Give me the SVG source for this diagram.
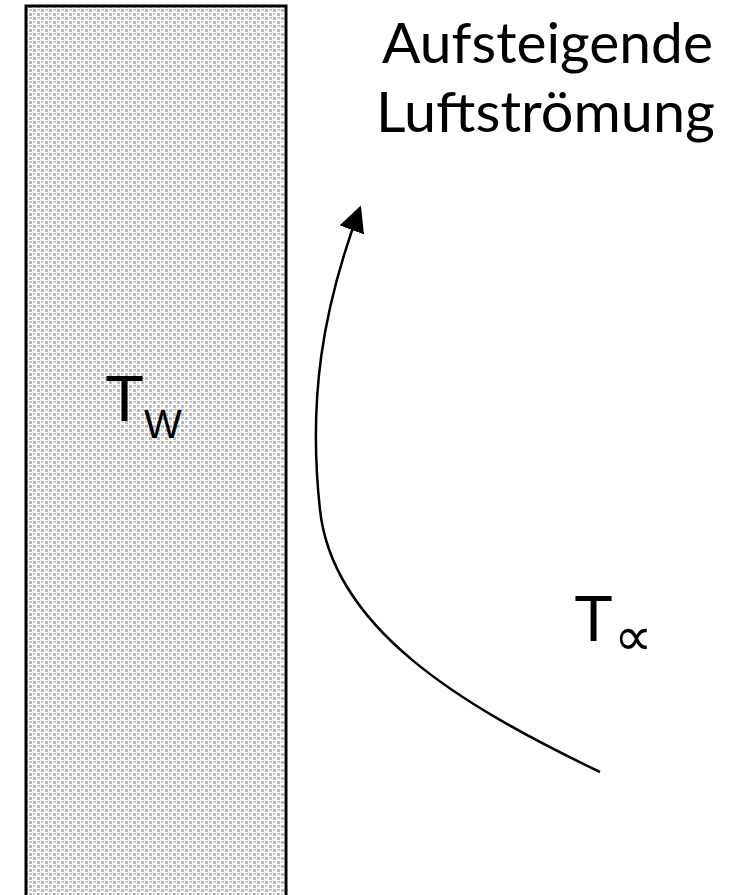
<svg xmlns="http://www.w3.org/2000/svg" width="754" height="895" viewBox="0 0 754 895">
<defs>
<pattern id="dots" x="0" y="0" width="8" height="8" patternUnits="userSpaceOnUse">
<rect x="0" y="0" width="8" height="8" fill="#ffffff"/>
<rect x="1" y="1" width="3" height="3" fill="#b8b8b8"/>
<rect x="5" y="5" width="3" height="3" fill="#b8b8b8"/>
<rect x="5" y="1" width="3" height="2" fill="#c8c8c8"/>
<rect x="1" y="5" width="2" height="2" fill="#d0d0d0"/>
</pattern>
<marker id="arrow" viewBox="0 0 10 10" refX="9" refY="5" markerWidth="26" markerHeight="26" markerUnits="userSpaceOnUse" orient="auto">
<path d="M0,0 L10,5 L0,10 Z" fill="#000"/>
</marker>
<style>
.lbl{font-family:"Liberation Sans",Arial,sans-serif;fill:#000}
.title{font-family:Lato,"Open Sans",sans-serif;font-size:57px;fill:#000}
</style>
</defs>
<rect width="754" height="895" fill="#ffffff"/>
<g id="wall">
<rect x="26" y="6" width="260" height="895" fill="url(#dots)" stroke="#000" stroke-width="3"/>
<text class="lbl" x="105" y="421" font-size="64">T<tspan font-size="40" dy="17">W</tspan></text>
</g>
<g id="title">
<text class="title" x="382" y="63" textLength="331" lengthAdjust="spacingAndGlyphs">Aufsteigende</text>
<text class="title" x="376" y="132" textLength="339" lengthAdjust="spacingAndGlyphs">Luftströmung</text>
</g>
<g id="ambient">
<text class="lbl" x="574" y="641" font-size="64">T<tspan font-family="'DejaVu Sans',sans-serif" font-size="54" dx="1" dy="14">∝</tspan></text>
</g>
<g id="connectors">
<path d="M600,772 C 460,705 333,628 320,510 C 308,400 322,310 360,208" fill="none" stroke="#000" stroke-width="2.5" marker-end="url(#arrow)"/>
</g>
</svg>
